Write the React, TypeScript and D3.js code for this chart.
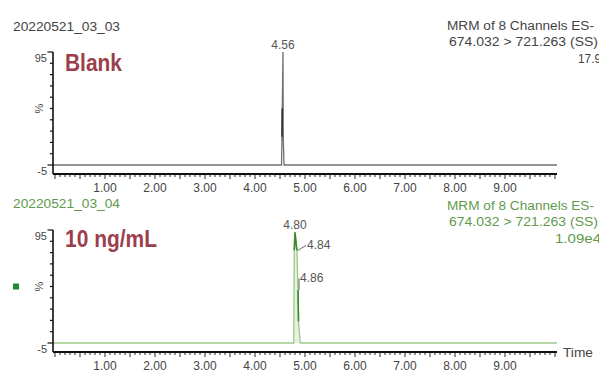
import React from "react";
import * as d3 from "d3";

const W = 607;
const H = 379;

// x axis (retention time, min)
const xDomain = [-0.04, 10.04];
const xLabelTimes = [1, 2, 3, 4, 5, 6, 7, 8, 9];
const xTickLabels = ["1.00", "2.00", "3.00", "4.00", "5.00", "6.00", "7.00", "8.00", "9.00"];

// y axis (%)
const yDomain = [-5, 95];
const yTickValues = [-5, 5, 15, 25, 35, 45, 55, 65, 75, 85, 95];
const yEndLabels = ["95", "-5"];

// Blank trace
const blankTimes = [-0.04, 4.53, 4.54, 4.545, 4.56, 4.565, 4.58, 10.04];
const blankValues = [-5, -5, 20, 45, 95, 20, -5, -5];
const blankDarkRanges = [[4.54, 4.545]];
const blankPeakTimes = [4.56];
const blankPeakLabels = ["4.56"];

// 10 ng/mL trace
const stdTimes = [-0.04, 4.775, 4.785, 4.8, 4.83, 4.84, 4.855, 4.86, 4.87, 4.905, 10.04];
const stdValues = [-5, -5, 77, 93, 80, 77, 50, 42, 14, -5, -5];
const stdDarkRanges = [[4.785, 4.84], [4.86, 4.87]];
const stdPeakTimes = [4.8, 4.84, 4.86];
const stdPeakLabels = ["4.80", "4.84", "4.86"];

const titles = ["20220521_03_03", "20220521_03_04"];
const headerLines1 = ["MRM of 8 Channels ES-", "MRM of 8 Channels ES-"];
const headerLines2 = ["674.032 > 721.263 (SS)", "674.032 > 721.263 (SS)"];
const headerLines3 = ["17.9", "1.09e4"];
const sampleLabels = ["Blank", "10 ng/mL"];

const FONT = "'Liberation Sans', Arial, Helvetica, sans-serif";

type PanelCfg = {
  oy: number;
  idx: number;
  times: number[];
  values: number[];
  darkRanges: number[][];
  peakTimes: number[];
  peakLabels: string[];
  labelLen: number;
  line3Len: number;
  line3X: number;
  textColor: string;
  traceColor: string;
  darkColor: string;
  fill: string;
  showTime: boolean;
  showSquare: boolean;
  peakPlace: [number, number, string, boolean][];
};

function Panel({ c }: { c: PanelCfg }) {
  const x = d3.scaleLinear().domain(xDomain).range([53, 557]);
  const y = d3.scaleLinear().domain(yDomain).range([165 + c.oy, 52 + c.oy]);
  const axisY = y(-5) + 9;
  const pts: [number, number][] = c.times.map((t, i) => [t, c.values[i]]);
  const line = d3
    .line<[number, number]>()
    .x((d) => x(d[0]))
    .y((d) => y(d[1]));
  const area = d3
    .area<[number, number]>()
    .x((d) => x(d[0]))
    .y0(() => y(-5))
    .y1((d) => y(d[1]));
  const minor = d3.range(0, 101).map((i) => i / 10);
  const valAt = (t: number) => {
    const i = c.times.findIndex((tt) => Math.abs(tt - t) < 1e-9);
    return c.values[i];
  };
  const axisColor = "#111";
  const labelColor = "#444";
  return (
    <g>
      <text x={13} y={31 + (c.idx ? 177 : 0)} fontSize={12} fill={c.textColor} textLength={107} lengthAdjust="spacingAndGlyphs">
        {titles[c.idx]}
      </text>
      <g clipPath="url(#rclip)">
        <text x={447} y={29.5 + (c.idx ? 180 : 0)} fontSize={12} fill={c.textColor} textLength={147} lengthAdjust="spacingAndGlyphs">
          {headerLines1[c.idx]}
        </text>
        <text x={449} y={46 + (c.idx ? 179.5 : 0)} fontSize={12} fill={c.textColor} textLength={149} lengthAdjust="spacingAndGlyphs">
          {headerLines2[c.idx]}
        </text>
        <text x={c.line3X} y={62.5 + (c.idx ? 180 : 0)} fontSize={12} fill={c.textColor} textLength={c.line3Len} lengthAdjust="spacingAndGlyphs">
          {headerLines3[c.idx]}
        </text>
      </g>
      <text x={65} y={71 + (c.idx ? 176 : 0)} fontSize={24} fontWeight="bold" fill="#9c3f4d" textLength={c.labelLen} lengthAdjust="spacingAndGlyphs">
        {sampleLabels[c.idx]}
      </text>

      <path d={area(pts) || ""} fill={c.fill} stroke="none" />
      <path d={line(pts) || ""} fill="none" stroke={c.traceColor} strokeWidth={1.3} />
      {c.darkRanges.map((r, i) => (
        <path
          key={i}
          d={line(pts.filter((p) => p[0] >= r[0] - 1e-9 && p[0] <= r[1] + 1e-9)) || ""}
          fill="none"
          stroke={c.darkColor}
          strokeWidth={1.6}
        />
      ))}

      {c.peakTimes.map((t, i) => {
        const px = x(t);
        const py = y(valAt(t));
        const [dx, dy, anchor, leader] = c.peakPlace[i];
        return (
          <g key={i}>
            {leader && (
              <line x1={px + 1} y1={py} x2={px + dx - 1} y2={py + dy - 4} stroke="#555" strokeWidth={0.9} />
            )}
            <text x={px + dx} y={py + dy} fontSize={12} fill="#555" textAnchor={anchor as any}>
              {c.peakLabels[i]}
            </text>
          </g>
        );
      })}

      <line x1={53} y1={y(95)} x2={53} y2={axisY} stroke={axisColor} strokeWidth={1.6} />
      {yTickValues.map((v) => {
        const end = v === 95 || v === -5;
        return <line key={v} x1={end ? 47.5 : 50} y1={y(v)} x2={53} y2={y(v)} stroke={axisColor} strokeWidth={1.2} />;
      })}
      <text x={47} y={y(95) + 10} fontSize={11} fill={labelColor} textAnchor="end">
        {yEndLabels[0]}
      </text>
      <text x={47} y={y(-5) + 10} fontSize={11} fill={labelColor} textAnchor="end">
        {yEndLabels[1]}
      </text>
      <text
        x={0}
        y={0}
        fontSize={11}
        fill={labelColor}
        textAnchor="middle"
        transform={`translate(43,${y(45)}) rotate(-90)`}
      >
        %
      </text>

      <line x1={53} y1={axisY} x2={557} y2={axisY} stroke={axisColor} strokeWidth={2} />
      {minor.map((t, i) => (
        <line
          key={i}
          x1={x(t)}
          y1={axisY}
          x2={x(t)}
          y2={axisY + (i % 5 === 0 ? 5 : 3)}
          stroke={axisColor}
          strokeWidth={0.9}
        />
      ))}
      {xLabelTimes.map((t, i) => (
        <text key={t} x={x(t)} y={axisY + 17.5} fontSize={12} fill={labelColor} textAnchor="middle">
          {xTickLabels[i]}
        </text>
      ))}
      {c.showTime && (
        <text x={563} y={axisY + 4.5} fontSize={12} fill={labelColor} textLength={30} lengthAdjust="spacingAndGlyphs">
          Time
        </text>
      )}
      {c.showSquare && <rect x={13} y={y(45) - 3} width={6} height={6} fill="#1f8a3a" />}
    </g>
  );
}

export default function App() {
  const top: PanelCfg = {
    oy: 0,
    idx: 0,
    times: blankTimes,
    values: blankValues,
    darkRanges: blankDarkRanges,
    peakTimes: blankPeakTimes,
    peakLabels: blankPeakLabels,
    labelLen: 57,
    line3Len: 23,
    line3X: 578,
    textColor: "#444",
    traceColor: "#707070",
    darkColor: "#333",
    fill: "none",
    showTime: false,
    showSquare: false,
    peakPlace: [[0, -3, "middle", false]],
  };
  const bottom: PanelCfg = {
    oy: 178,
    idx: 1,
    times: stdTimes,
    values: stdValues,
    darkRanges: stdDarkRanges,
    peakTimes: stdPeakTimes,
    peakLabels: stdPeakLabels,
    labelLen: 92,
    line3Len: 46,
    line3X: 555,
    textColor: "#5f9a4c",
    traceColor: "#9cc987",
    darkColor: "#3a8a2c",
    fill: "#e6f2df",
    showTime: true,
    showSquare: true,
    peakPlace: [
      [0, -3, "middle", false],
      [10, -1, "start", true],
      [2, -7.5, "start", true],
    ],
  };
  return (
    <svg
      width={W}
      height={H}
      viewBox={`0 0 ${W} ${H}`}
      style={{ position: "absolute", left: 0, top: 0, background: "#fff" }}
      fontFamily={FONT}
    >
      <defs>
        <clipPath id="rclip">
          <rect x={0} y={0} width={599} height={H} />
        </clipPath>
      </defs>
      <rect x={0} y={0} width={W} height={H} fill="#fff" />
      <Panel c={top} />
      <Panel c={bottom} />
    </svg>
  );
}
